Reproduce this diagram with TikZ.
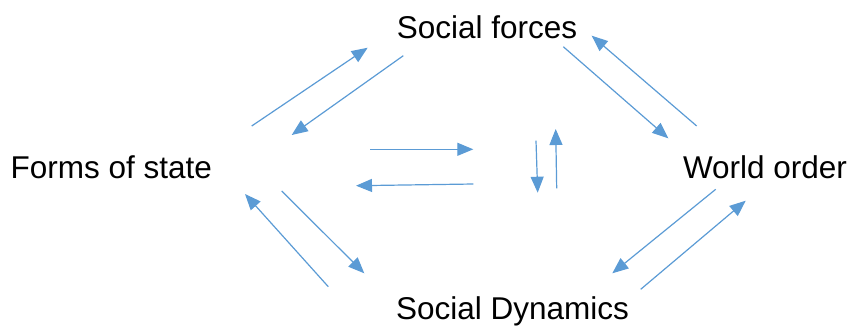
\documentclass[tikz,border=0pt]{standalone}
\usepackage{fontspec}
\setmainfont{Liberation Sans}
\usepackage{tikz}
\usepackage{xcolor}
\usetikzlibrary{arrows.meta, positioning}
\definecolor{cArrow}{RGB}{91,155,213}
\tikzset{
	label/.style={anchor=base, inner sep=0pt, font=\fontsize{31.5}{36}\selectfont},
	flowarrow/.style={-{Triangle[length=16pt, width=13pt]}, line width=1.2pt, draw=cArrow},
}

\begin{document}
\begin{tikzpicture}[x=1pt, y=-1pt]
	\useasboundingbox (0,0) rectangle (852,325);
	% the four labels
	\node[label] (soc) at (487,38.3) {Social forces};
	\node[label] (state) at (111.2,178.3) {Forms of state};
	\node[label] (world) at (765,178.3) {World order};
	\node[label] (dyn) at (512.5,319.3) {Social Dynamics};
	% arrow ends
	\coordinate (s1a) at (251.7,126);   \coordinate (s1b) at (367.7,47.7);
	\coordinate (s2a) at (403.3,55.7);  \coordinate (s2b) at (291.7,135);
	\coordinate (w1a) at (563.3,46.7);  \coordinate (w1b) at (668.3,138.3);
	\coordinate (w2a) at (696.7,126);   \coordinate (w2b) at (591.7,35.7);
	\coordinate (d1a) at (715.7,189.3); \coordinate (d1b) at (612.3,273.3);
	\coordinate (d2a) at (640.7,289.3); \coordinate (d2b) at (745.7,200.7);
	\coordinate (f1a) at (328.3,286.7); \coordinate (f1b) at (245,194);
	\coordinate (f2a) at (281.7,191);   \coordinate (f2b) at (364.3,273.3);
	\coordinate (c1a) at (370,149.3);   \coordinate (c1b) at (473.3,149.3);
	\coordinate (c2a) at (473.3,184);   \coordinate (c2b) at (356,185.7);
	\coordinate (c3a) at (536,140.7);   \coordinate (c3b) at (537.7,192.7);
	\coordinate (c4a) at (556.7,188.3); \coordinate (c4b) at (555.7,129);
	% arrows
	\foreach \a in {s1,s2,w1,w2,d1,d2,f1,f2,c1,c2,c3,c4}
		\draw[flowarrow] (\a a) -- (\a b);
\end{tikzpicture}
\end{document}
